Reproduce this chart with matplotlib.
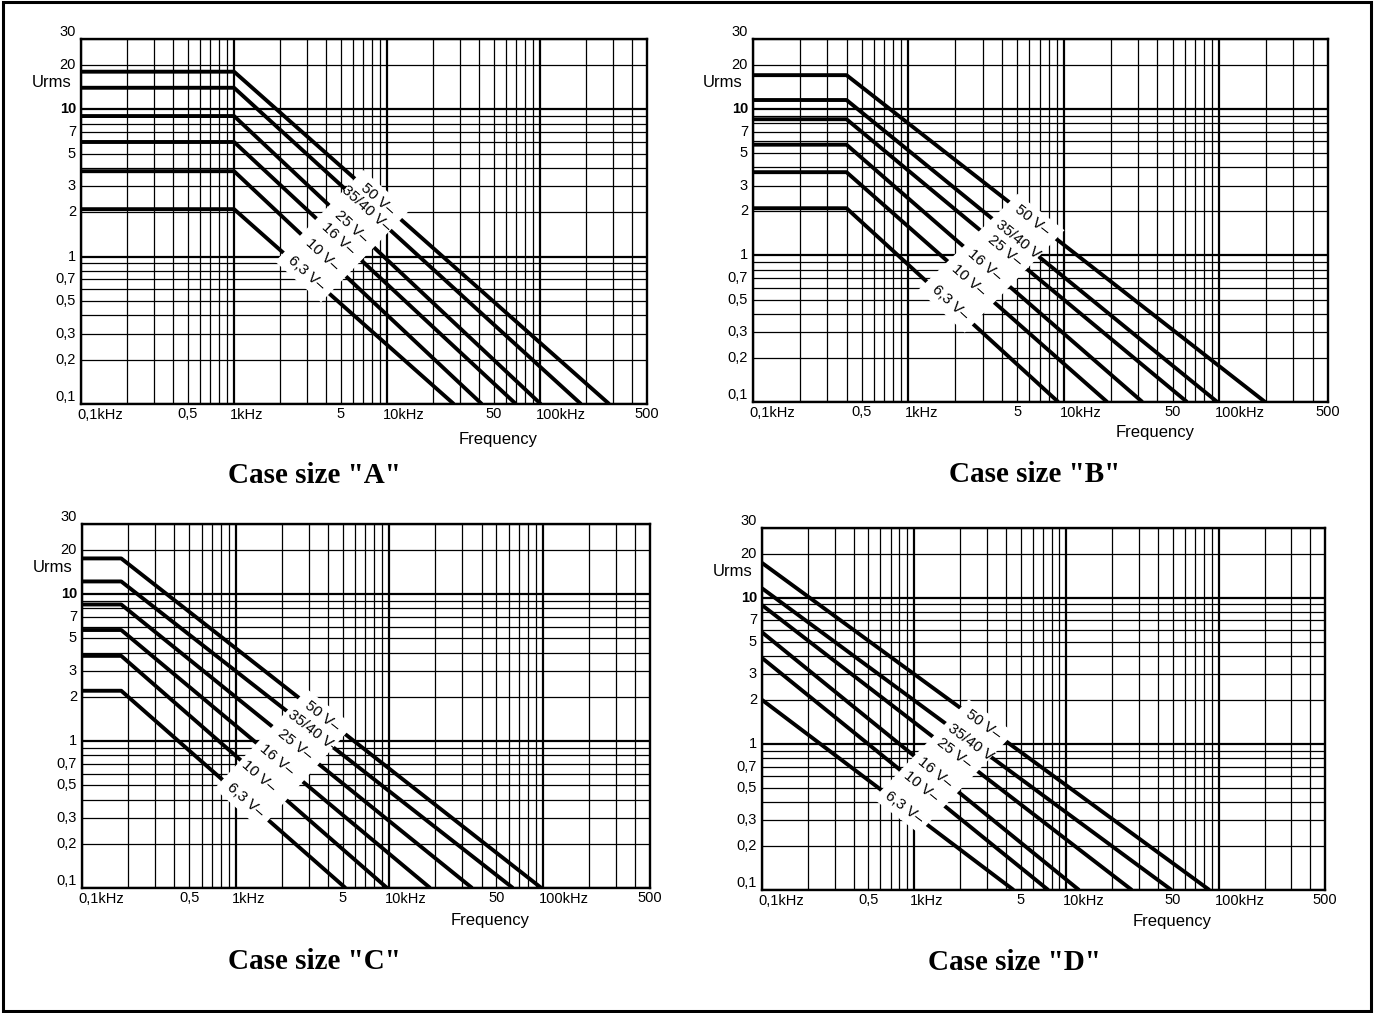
import numpy as np
import matplotlib.pyplot as plt
from matplotlib.patches import Polygon, Rectangle
from matplotlib.transforms import ScaledTranslation, blended_transform_factory

plt.rcParams['font.family'] = ['Liberation Sans', 'DejaVu Sans']

# voltage classes, top curve first
voltages = ['50 V–', '35/40 V–', '25 V–', '16 V–', '10 V–', '6,3 V–']

# each case size: Urms flat up to the knee (kHz), then falls to 0.1 V at the end frequency (kHz)
knee_a = 1.0
level_a = [18, 14, 9, 6, 3.8, 2.1]
end_a = [283, 185, 101, 69.5, 41.6, 27.3]

knee_b = 0.4
level_b = [17, 11.5, 8.5, 5.7, 3.7, 2.1]
end_b = [197, 97, 62, 32, 19, 9.2]

knee_c = 0.18
level_c = [17.5, 12.2, 8.5, 5.7, 3.8, 2.2]
end_c = [98, 64, 34.7, 18.5, 9.7, 5.2]

knee_d = 0.1
level_d = [17.3, 11.6, 8.9, 5.8, 3.87, 2.0]
end_d = [87, 49, 26.9, 12.1, 7.6, 4.5]

xtick_vals = [0.1, 0.5, 1, 5, 10, 50, 100, 500]
xtick_labels = ['0,1kHz', '0,5', '1kHz', '5', '10kHz', '50', '100kHz', '500']
ytick_vals = [0.1, 0.2, 0.3, 0.5, 0.7, 1, 2, 3, 5, 7, 10, 20, 30]
ytick_labels = ['0,1', '0,2', '0,3', '0,5', '0,7', '1', '2', '3', '5', '7', '10', '20', '30']

# where the voltage labels interrupt each curve (kHz)
label_a = [8.7, 7.35, 5.86, 4.82, 3.79, 2.97]
label_b = [6.3, 5.3, 4.2, 3.1, 2.45, 1.85]
label_c = [3.66, 3.2, 2.42, 1.86, 1.41, 1.16]
label_d = [2.84, 2.48, 1.84, 1.36, 1.10, 0.86]

panels = [
    ('A', knee_a, level_a, end_a, label_a, [0.0590, 0.6012, 0.4119, 0.3603], (0.413, -0.195), (0.737, -0.096)),
    ('B', knee_b, level_b, end_b, label_b, [0.5480, 0.6032, 0.4185, 0.3583], (0.490, -0.201), (0.700, -0.083)),
    ('C', knee_c, level_c, end_c, label_c, [0.0597, 0.1234, 0.4134, 0.3593], (0.410, -0.203), (0.718, -0.088)),
    ('D', knee_d, level_d, end_d, label_d, [0.5546, 0.1214, 0.4098, 0.3574], (0.449, -0.199), (0.728, -0.086)),
]

fig = plt.figure(figsize=(13.74, 10.13), dpi=100)


def slope_u(knee, lev, end, f):
    # Urms on the falling part of a curve at frequency f
    return 10 ** np.interp(np.log10(f), [np.log10(knee), np.log10(end)], [np.log10(lev), -1])


for name, knee, level, end, label_f, pos, title_xy, freq_xy in panels:
    ax = fig.add_axes(pos)
    ax.set_xscale('log')
    ax.set_yscale('log')
    ax.set_xlim(0.1, 500)
    ax.set_ylim(0.1, 30)
    ax.set_xticks([])
    ax.set_xticks([], minor=True)
    ax.set_yticks([])
    ax.set_yticks([], minor=True)
    for s in ax.spines.values():
        s.set_linewidth(1.7)

    # log paper grid
    for d in range(-1, 3):
        for m in range(1, 10):
            v = m * 10.0 ** d
            if v <= 500:
                ax.axvline(v, color='black', lw=1.6 if m == 1 else 0.9, zorder=1)
    for d in range(-1, 2):
        for m in range(1, 10):
            v = m * 10.0 ** d
            if v <= 30:
                ax.axhline(v, color='black', lw=1.6 if m == 1 else 0.9, zorder=1)

    for lev, e in zip(level, end):
        ax.plot([0.1, knee, e], [lev, lev, 0.1], color='black', lw=2.8,
                solid_capstyle='butt', zorder=2)

    # white band across the curves where the labels go
    hw = 0.15
    def gap(i):
        f = label_f[i]
        return [ax.transData.transform((ff, slope_u(knee, level[i], end[i], ff)))
                for ff in (f * 10 ** -hw, f * 10 ** hw)]
    t0, t1 = gap(0)
    b0, b1 = gap(len(level) - 1)
    n = (t0 + t1) / 2 - (b0 + b1) / 2
    n = n / np.linalg.norm(n)
    ext = 12
    corners = np.array([t0 + n * ext, t1 + n * ext, b1 - n * ext, b0 - n * ext])
    corners = ax.transData.inverted().transform(corners)
    ax.add_patch(Polygon(corners, closed=True, fc='white', ec='none', zorder=3))

    for i, txt in enumerate(voltages):
        p0 = ax.transData.transform((knee, level[i]))
        p1 = ax.transData.transform((end[i], 0.1))
        ang = np.degrees(np.arctan2(p1[1] - p0[1], p1[0] - p0[0]))
        f = label_f[i]
        ax.text(f, slope_u(knee, level[i], end[i], f), txt, rotation=ang,
                rotation_mode='anchor', ha='center', va='center', fontsize=11, zorder=4)

    # axis labels
    xt = blended_transform_factory(ax.transData, ax.transAxes)
    for v, lab in zip(xtick_vals, xtick_labels):
        if 'kHz' in lab:
            tr = xt + ScaledTranslation(-0.04, -0.04, fig.dpi_scale_trans)
            ha = 'left'
        else:
            tr = xt + ScaledTranslation(0, -0.03, fig.dpi_scale_trans)
            ha = 'center'
        ax.text(v, 0, lab, transform=tr, ha=ha, va='top', fontsize=10.5)

    yt = blended_transform_factory(ax.transAxes, ax.transData)
    for v, lab in zip(ytick_vals, ytick_labels):
        va = 'bottom' if v in (0.1, 30) else 'center'
        ax.text(0, v, lab, transform=yt + ScaledTranslation(-0.05, 0, fig.dpi_scale_trans),
                ha='right', va=va, fontsize=10.5,
                fontweight='bold' if lab == '10' else 'normal')

    ax.text(-0.052, 0.88, 'Urms', transform=ax.transAxes, ha='center', va='center', fontsize=12)
    ax.text(freq_xy[0], freq_xy[1], 'Frequency', transform=ax.transAxes,
            ha='center', va='center', fontsize=12)
    ax.text(title_xy[0], title_xy[1], 'Case size "%s"' % name, transform=ax.transAxes,
            ha='center', va='center', fontsize=21, fontweight='bold',
            family=['Liberation Serif', 'DejaVu Serif'])

fig.add_artist(Rectangle((0.002, 0.002), 0.996, 0.996, transform=fig.transFigure,
                         fill=False, lw=2.2, ec='black'))

fig.savefig('out.png', dpi=100)
